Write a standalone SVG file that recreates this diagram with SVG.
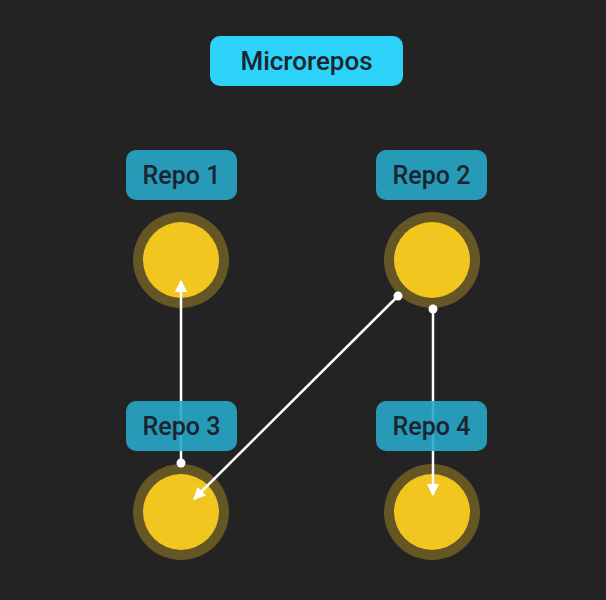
<svg xmlns="http://www.w3.org/2000/svg" width="606" height="600" viewBox="0 0 606 600">
<defs>
<style>
.lbl{fill:#28a7c9;fill-opacity:0.9}
.txt{font-family:Roboto,"Noto Sans",sans-serif;font-size:25px;font-weight:500;fill:#1a2530;text-anchor:middle}
.ring{fill:#655725}
.core{fill:#f1c71f}
.conn{stroke:#ffffff;stroke-width:2.5;fill:none}
.dot{fill:#ffffff}
</style>
<marker id="ah" viewBox="0 0 10 10" refX="9" refY="5" markerWidth="5" markerHeight="5" orient="auto" markerUnits="strokeWidth">
<path d="M0,0 L10,5 L0,10 z" fill="#ffffff"/>
</marker>
</defs>
<rect x="0" y="0" width="606" height="600" fill="#232323"/>
<g id="title">
<rect x="210" y="36" width="193" height="50" rx="10" fill="#2cd2f7"/>
<text x="306.5" y="70" class="txt" style="font-size:26px">Microrepos</text>
</g>
<g id="circles">
<g id="node-repo1-circle"><circle cx="181" cy="260" r="48" class="ring"/><circle cx="181" cy="260" r="38" class="core"/></g>
<g id="node-repo2-circle"><circle cx="432" cy="260" r="48" class="ring"/><circle cx="432" cy="260" r="38" class="core"/></g>
<g id="node-repo3-circle"><circle cx="181" cy="512" r="48" class="ring"/><circle cx="181" cy="512" r="38" class="core"/></g>
<g id="node-repo4-circle"><circle cx="432" cy="512" r="48" class="ring"/><circle cx="432" cy="512" r="38" class="core"/></g>
</g>
<g id="connectors">
<line x1="181" y1="463" x2="181" y2="281" class="conn" marker-end="url(#ah)"/>
<circle cx="181" cy="463" r="4.5" class="dot"/>
<line x1="398" y1="296" x2="194" y2="499" class="conn" marker-end="url(#ah)"/>
<circle cx="398" cy="296" r="4.5" class="dot"/>
<line x1="433" y1="309" x2="433" y2="495" class="conn" marker-end="url(#ah)"/>
<circle cx="433" cy="309" r="4.5" class="dot"/>
</g>
<g id="repo1"><rect x="126" y="150" width="111" height="50" rx="10" class="lbl"/><text x="181.5" y="184" class="txt">Repo 1</text></g>
<g id="repo2"><rect x="376" y="150" width="111" height="50" rx="10" class="lbl"/><text x="431.5" y="184" class="txt">Repo 2</text></g>
<g id="repo3"><rect x="126" y="401" width="111" height="50" rx="10" class="lbl"/><text x="181.5" y="435" class="txt">Repo 3</text></g>
<g id="repo4"><rect x="376" y="401" width="111" height="50" rx="10" class="lbl"/><text x="431.5" y="435" class="txt">Repo 4</text></g>
</svg>
